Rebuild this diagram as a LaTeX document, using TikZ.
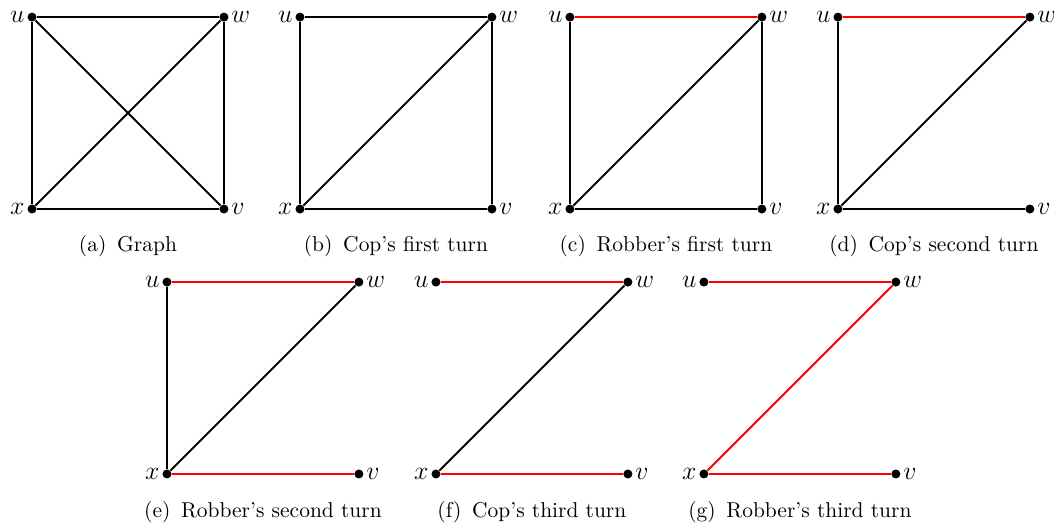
\documentclass[tikz,border=0pt]{standalone}
\usetikzlibrary{positioning}

\begin{document}
\begin{tikzpicture}[
    vert/.style={circle, fill=black, inner sep=0pt, minimum size=4.2pt},
    edge/.style={line width=0.9pt, black},
    redge/.style={line width=0.9pt, red},
    vlabel/.style={font=\large, inner sep=1pt},
    subcap/.style={font=\normalsize}
]
\useasboundingbox (0,0) rectangle (17.245,8.622);

% ====================
% (a) Graph
% ====================
\begin{scope}[shift={(0.524,5.202)}]
\node[vert, label={[vlabel]left:$u$}] (au) at (0,3.14) {};
\node[vert, label={[vlabel]right:$w$}] (aw) at (3.14,3.14) {};
\node[vert, label={[vlabel]left:$x$}] (ax) at (0,0) {};
\node[vert, label={[vlabel]right:$v$}] (av) at (3.14,0) {};
\draw[edge] (au) -- (aw); \draw[edge] (au) -- (ax); \draw[edge] (au) -- (av);
\draw[edge] (aw) -- (av); \draw[edge] (aw) -- (ax); \draw[edge] (ax) -- (av);
\node[subcap] (acap) at (1.57,-0.6) {(a)\enspace Graph};
\end{scope}

% ====================
% (b) Cop's first turn
% ====================
\begin{scope}[shift={(4.908,5.202)}]
\node[vert, label={[vlabel]left:$u$}] (bu) at (0,3.14) {};
\node[vert, label={[vlabel]right:$w$}] (bw) at (3.14,3.14) {};
\node[vert, label={[vlabel]left:$x$}] (bx) at (0,0) {};
\node[vert, label={[vlabel]right:$v$}] (bv) at (3.14,0) {};
\draw[edge] (bu) -- (bw); \draw[edge] (bu) -- (bx);
\draw[edge] (bw) -- (bv); \draw[edge] (bw) -- (bx); \draw[edge] (bx) -- (bv);
\node[subcap] (bcap) at (1.57,-0.6) {(b)\enspace Cop's first turn};
\end{scope}

% ====================
% (c) Robber's first turn
% ====================
\begin{scope}[shift={(9.325,5.202)}]
\node[vert, label={[vlabel]left:$u$}] (cu) at (0,3.14) {};
\node[vert, label={[vlabel]right:$w$}] (cw) at (3.14,3.14) {};
\node[vert, label={[vlabel]left:$x$}] (cx) at (0,0) {};
\node[vert, label={[vlabel]right:$v$}] (cv) at (3.14,0) {};
\draw[redge] (cu) -- (cw); \draw[edge] (cu) -- (cx);
\draw[edge] (cw) -- (cv); \draw[edge] (cw) -- (cx); \draw[edge] (cx) -- (cv);
\node[subcap] (ccap) at (1.57,-0.6) {(c)\enspace Robber's first turn};
\end{scope}

% ====================
% (d) Cop's second turn
% ====================
\begin{scope}[shift={(13.71,5.202)}]
\node[vert, label={[vlabel]left:$u$}] (du) at (0,3.14) {};
\node[vert, label={[vlabel]right:$w$}] (dw) at (3.14,3.14) {};
\node[vert, label={[vlabel]left:$x$}] (dx) at (0,0) {};
\node[vert, label={[vlabel]right:$v$}] (dv) at (3.14,0) {};
\draw[redge] (du) -- (dw); \draw[edge] (du) -- (dx);
\draw[edge] (dw) -- (dx); \draw[edge] (dx) -- (dv);
\node[subcap] (dcap) at (1.57,-0.6) {(d)\enspace Cop's second turn};
\end{scope}

% ====================
% (e) Robber's second turn
% ====================
\begin{scope}[shift={(2.732,0.867)}]
\node[vert, label={[vlabel]left:$u$}] (eu) at (0,3.14) {};
\node[vert, label={[vlabel]right:$w$}] (ew) at (3.14,3.14) {};
\node[vert, label={[vlabel]left:$x$}] (ex) at (0,0) {};
\node[vert, label={[vlabel]right:$v$}] (ev) at (3.14,0) {};
\draw[redge] (eu) -- (ew); \draw[edge] (eu) -- (ex);
\draw[edge] (ew) -- (ex); \draw[redge] (ex) -- (ev);
\node[subcap] (ecap) at (1.57,-0.62) {(e)\enspace Robber's second turn};
\end{scope}

% ====================
% (f) Cop's third turn
% ====================
\begin{scope}[shift={(7.133,0.867)}]
\node[vert, label={[vlabel]left:$u$}] (fu) at (0,3.14) {};
\node[vert, label={[vlabel]right:$w$}] (fw) at (3.14,3.14) {};
\node[vert, label={[vlabel]left:$x$}] (fx) at (0,0) {};
\node[vert, label={[vlabel]right:$v$}] (fv) at (3.14,0) {};
\draw[redge] (fu) -- (fw);
\draw[edge] (fw) -- (fx); \draw[redge] (fx) -- (fv);
\node[subcap] (fcap) at (1.57,-0.62) {(f)\enspace Cop's third turn};
\end{scope}

% ====================
% (g) Robber's third turn
% ====================
\begin{scope}[shift={(11.517,0.867)}]
\node[vert, label={[vlabel]left:$u$}] (gu) at (0,3.14) {};
\node[vert, label={[vlabel]right:$w$}] (gw) at (3.14,3.14) {};
\node[vert, label={[vlabel]left:$x$}] (gx) at (0,0) {};
\node[vert, label={[vlabel]right:$v$}] (gv) at (3.14,0) {};
\draw[redge] (gu) -- (gw);
\draw[redge] (gw) -- (gx); \draw[redge] (gx) -- (gv);
\node[subcap] (gcap) at (1.57,-0.62) {(g)\enspace Robber's third turn};
\end{scope}

\end{tikzpicture}
\end{document}
